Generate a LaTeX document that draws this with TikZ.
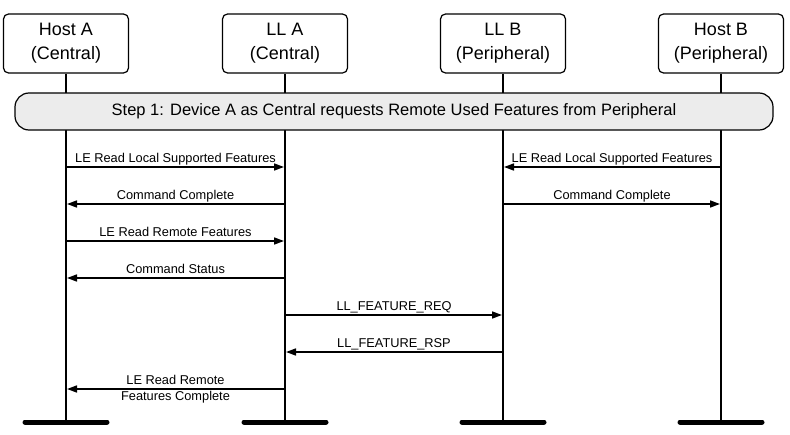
\documentclass[tikz,border=0pt]{standalone}
\usepackage{fontspec}
\setmainfont{Liberation Sans}
\usetikzlibrary{arrows.meta}
\definecolor{stepgray}{RGB}{236,236,236}

\begin{document}
\begin{tikzpicture}[
    x = 1pt,
    y = -1pt,
    >={Triangle[length=10pt,width=7pt]},
    party/.style = {
      draw,
      rounded corners = 5pt,
      line width = 1.2pt,
      minimum width = 125pt,
      minimum height = 59pt,
      inner sep = 0pt,
      align = center,
      execute at begin node = {\vspace*{4pt}},
      font = \fontsize{18}{24}\selectfont
    },
    stepbox/.style = {
      draw,
      fill = stepgray,
      rounded corners = 14pt,
      line width = 1.2pt,
      minimum width = 758pt,
      minimum height = 37pt,
      font = \fontsize{16.5}{19}\selectfont
    },
    life/.style = {line width = 2pt},
    bar/.style = {line width = 5pt, line cap = round},
    msg/.style = {->, line width = 1.6pt, shorten > = 1pt},
    txt/.style = {
      above = 4pt,
      inner sep = 0pt,
      text depth = 0pt,
      font = \fontsize{12.8}{16.5}\selectfont
    },
    txttwo/.style = {
      inner sep = 0pt,
      align = center,
      font = \fontsize{12.8}{16.5}\selectfont
    }
  ]
\useasboundingbox (0,0) rectangle (790,434);

% parties
\node[party] (hostA) at (66,43.5)  {Host A\\(Central)};
\node[party] (llA)   at (285,43.5) {LL A\\(Central)};
\node[party] (llB)   at (503,43.5) {LL B\\(Peripheral)};
\node[party] (hostB) at (721,43.5) {Host B\\(Peripheral)};

% lifelines
\coordinate (base) at (0,422);
\foreach \p in {hostA,llA,llB,hostB} {
  \draw[life] (\p.south) -- (\p |- base);
  \draw[bar] (\p |- base) ++(-41,0) -- ++(82,0);
}

% step
\node[stepbox] (step) at (394,111.5)
  {Step 1: Device A as Central requests Remote Used Features from Peripheral};

% messages
\foreach \i/\y in {1/167,2/204,3/241,4/278,5/315,6/352,7/389}
  \coordinate (m\i) at (0,\y);

\draw[msg] (hostA |- m1) -- node[txt] {LE Read Local Supported Features} (llA |- m1);
\draw[msg] (hostB |- m1) -- node[txt] {LE Read Local Supported Features} (llB |- m1);
\draw[msg] (llA |- m2)   -- node[txt] {Command Complete} (hostA |- m2);
\draw[msg] (llB |- m2)   -- node[txt] {Command Complete} (hostB |- m2);
\draw[msg] (hostA |- m3) -- node[txt] {LE Read Remote Features} (llA |- m3);
\draw[msg] (llA |- m4)   -- node[txt] {Command Status} (hostA |- m4);
\draw[msg] (llA |- m5)   -- node[txt] {LL\_FEATURE\_REQ} (llB |- m5);
\draw[msg] (llB |- m6)   -- node[txt] {LL\_FEATURE\_RSP} (llA |- m6);
\draw[msg] (llA |- m7)   -- node[txttwo] {LE Read Remote\\Features Complete} (hostA |- m7);

\end{tikzpicture}
\end{document}
